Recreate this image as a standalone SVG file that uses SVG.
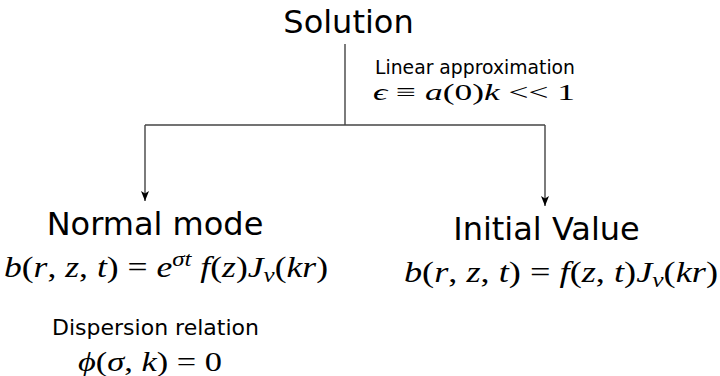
<svg xmlns="http://www.w3.org/2000/svg" width="720" height="376" viewBox="0 0 720 376">
<style>
.h{font-family:"DejaVu Sans",sans-serif;font-size:32px;fill:#000;text-anchor:middle}
.s{font-family:"DejaVu Sans",sans-serif;fill:#000}
.m{font-family:"Liberation Serif",serif;fill:#000}
.i{font-style:italic}
.c{fill:none;stroke:#444;stroke-width:1.4}
</style>
<defs>
<marker id="ah" viewBox="0 0 10 8" refX="10" refY="4" markerWidth="10" markerHeight="8" markerUnits="userSpaceOnUse" orient="auto">
<path d="M0,0 L10,4 L0,8 L2.5,4 Z" fill="#000"/>
</marker>
</defs>
<rect width="720" height="376" fill="#fff"/>
<g id="connectors">
<path class="c" d="M345,44 V125"/>
<path class="c" d="M145,125 H545"/>
<path class="c" d="M145,125 V201" marker-end="url(#ah)"/>
<path class="c" d="M545,125 V206" marker-end="url(#ah)"/>
</g>
<g id="solution">
<text class="h" x="348.5" y="33">Solution</text>
</g>
<g id="linear-label">
<text class="s" x="375" y="74" font-size="18.7" textLength="200" lengthAdjust="spacingAndGlyphs">Linear approximation</text>
<text class="m" x="373" y="100" font-size="24" textLength="202" lengthAdjust="spacingAndGlyphs"><tspan class="i">ϵ</tspan> ≡ <tspan class="i">a</tspan>(0)<tspan class="i">k</tspan> &lt;&lt; 1</text>
</g>
<g id="normal-mode">
<text class="h" x="155" y="235">Normal mode</text>
<text class="m" x="4" y="277" font-size="30" textLength="324" lengthAdjust="spacingAndGlyphs"><tspan class="i">b</tspan>(<tspan class="i">r</tspan>, <tspan class="i">z</tspan>, <tspan class="i">t</tspan>) = <tspan class="i">e</tspan><tspan class="i" font-size="21" dy="-11">σt</tspan><tspan class="i" dy="11"> f</tspan>(<tspan class="i">z</tspan>)<tspan class="i">J</tspan><tspan class="i" font-size="21" dy="5">ν</tspan><tspan dy="-5">(</tspan><tspan class="i">kr</tspan>)</text>
<text class="s" x="155.5" y="335" font-size="22" text-anchor="middle">Dispersion relation</text>
<text class="m" x="78" y="371" font-size="28" textLength="144" lengthAdjust="spacingAndGlyphs"><tspan class="i">ϕ</tspan>(<tspan class="i">σ</tspan>, <tspan class="i">k</tspan>) = 0</text>
</g>
<g id="initial-value">
<text class="h" x="546.5" y="240">Initial Value</text>
<text class="m" x="404" y="282" font-size="30" textLength="314" lengthAdjust="spacingAndGlyphs"><tspan class="i">b</tspan>(<tspan class="i">r</tspan>, <tspan class="i">z</tspan>, <tspan class="i">t</tspan>) = <tspan class="i">f</tspan>(<tspan class="i">z</tspan>, <tspan class="i">t</tspan>)<tspan class="i">J</tspan><tspan class="i" font-size="21" dy="5">ν</tspan><tspan dy="-5">(</tspan><tspan class="i">kr</tspan>)</text>
</g>
</svg>
